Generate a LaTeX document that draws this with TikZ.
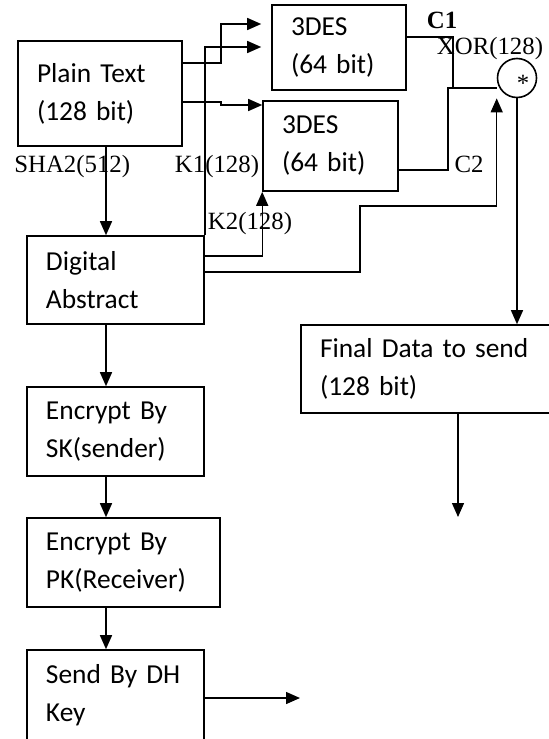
\documentclass[tikz,border=0pt]{standalone}
\usepackage{fontspec}
\setmainfont{Liberation Serif}
\newfontfamily\boxfont{Carlito}
\DeclareRobustCommand\boxtext{\boxfont\fontsize{13.7}{19}\selectfont\spaceskip=0.17em\relax}
\usetikzlibrary{arrows.meta,positioning,calc}

\begin{document}
\begin{tikzpicture}[x=0.5pt,y=-0.5pt,
    block/.style={draw,line width=0.8pt,inner xsep=9.5pt,inner ysep=0pt,align=left,font=\boxtext},
    lbl/.style={inner sep=0pt,font=\fontsize{12.4}{14}\selectfont},
    wire/.style={line width=0.7pt},
    flow/.style={line width=0.7pt,-{Triangle[length=7pt,width=6pt]}}]
    \useasboundingbox (0,0) rectangle (548,739);

    % Boxes
    \node[block,text width=63pt,minimum height=52.5pt] (plain) at (100,93.5) {Plain Text\\(128 bit)};
    \node[block,text width=48pt,minimum height=42.5pt] (des1) at (339,47.5) {3DES\\(64 bit)};
    \node[block,text width=48.5pt,minimum height=45pt] (des2) at (330.5,146) {3DES\\(64 bit)};
    \node[block,text width=69.5pt,minimum height=44pt] (digest) at (115.5,280) {Digital\\Abstract};
    \node[block,text width=69.5pt,minimum height=44.5pt] (encsk) at (115.5,431.5) {Encrypt By\\SK(sender)};
    \node[block,text width=77.5pt,minimum height=44.5pt] (encpk) at (123.5,562.5) {Encrypt By\\PK(Receiver)};
    \node[block,text width=69.5pt,minimum height=45pt] (senddh) at (115.5,695) {Send By DH\\Key};
    \node[block,text width=110.5pt,minimum height=44pt] (final) at (430.5,369) {Final Data to send\\(128 bit)};
    \node[draw,circle,line width=0.8pt,minimum size=19.5pt,inner sep=0pt] (xor) at (517,78) {};
    \node[lbl] (star) at (523,83) {*};

    % Labels
    \node[lbl,anchor=west] (shalbl) at (14,167) {SHA2(512)};
    \node[lbl] (k1lbl) at (217,167) {K1(128)};
    \node[lbl] (k2lbl) at (250,224) {K2(128)};
    \node[lbl] (c1lbl) at (442,20) {\textbf{C1}};
    \node[lbl] (xorlbl) at (490,49) {XOR(128)};
    \node[lbl] (c2lbl) at (469,164) {C2};

    % Main column
    \coordinate (spine) at (106,0);
    \draw[flow] (spine |- plain.south) -- (spine |- digest.north);
    \draw[flow] (spine |- digest.south) -- (spine |- encsk.north);
    \draw[flow] (spine |- encsk.south) -- (spine |- encpk.north);
    \draw[flow] (spine |- encpk.south) -- (spine |- senddh.north);
    \coordinate (dhout) at (300,698);
    \draw[flow] (senddh.east |- dhout) -- (dhout);

    % Plain text into both 3DES
    \draw[flow,shorten >=5pt] (plain.east |- 0,63) -| (221,24) -- (des1.west |- 0,24);
    \draw[flow] (plain.east |- 0,102) -| (221,105) -- (des2.west |- 0,105);

    % Keys
    \draw[flow,shorten >=5pt] (digest.north east) |- (des1.west |- 0,47);
    \draw[flow] (digest.east |- 0,256) -| (des2.south west);
    \draw[flow,shorten >=3pt] (digest.east |- 0,272) -| (360,206) -| (xor.west |- xor.south west);

    % C1 and C2 into XOR
    \draw[wire] (des1.east |- 0,37) -| (453,88);
    \draw[wire] (des2.east |- 0,170) -| (448,88) -- (xor.west |- 0,88);

    % Output
    \draw[flow] (xor.south) -- (xor.south |- final.north);
    \coordinate (dataout) at (458,517);
    \draw[flow] (dataout |- final.south) -- (dataout);
\end{tikzpicture}
\end{document}
